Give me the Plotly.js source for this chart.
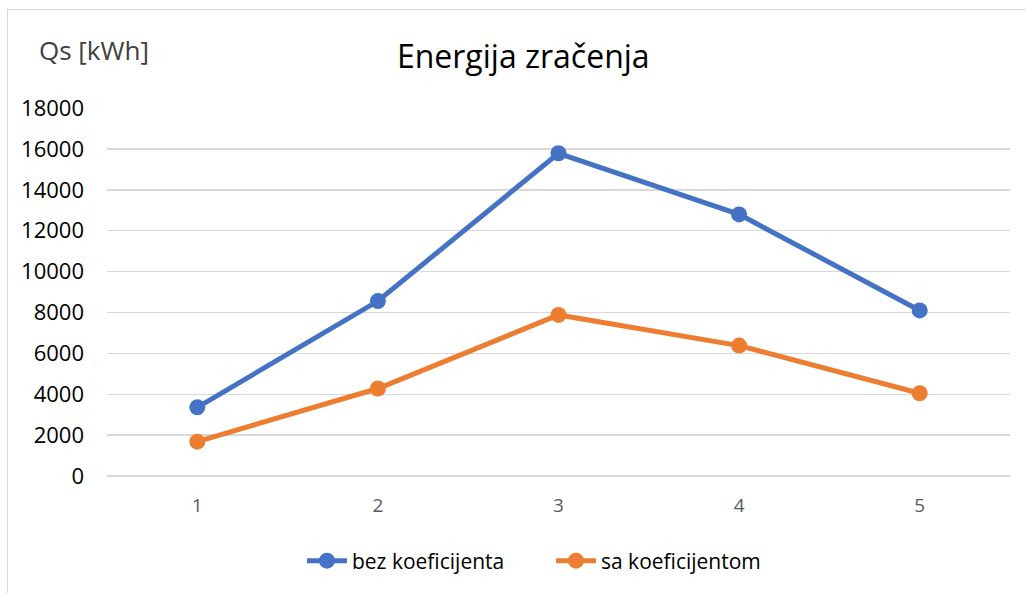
<!DOCTYPE html>
<html>
<head>
<meta charset="utf-8">
<script src="https://cdn.plot.ly/plotly-3.0.1.min.js"></script>
<style>
html,body{margin:0;padding:0;background:#fff;}
#wrap{position:relative;width:1026px;height:593px;overflow:hidden;}
#chart{width:1026px;height:593px;}
#frame{position:absolute;left:7px;top:9px;width:1030px;height:600px;border-left:1.5px solid #D9D9D9;border-top:1.5px solid #D9D9D9;pointer-events:none;}
</style>
</head>
<body>
<div id="wrap">
<div id="chart"></div>
<div id="frame"></div>
</div>
<script>
const categories = ["1", "2", "3", "4", "5"];
const bezKoeficijenta = [3360, 8560, 15790, 12800, 8100];
const saKoeficijentom = [1680, 4280, 7880, 6380, 4050];
const seriesNames = ["bez koeficijenta", "sa koeficijentom"];
const yTicks = [0, 2000, 4000, 6000, 8000, 10000, 12000, 14000, 16000, 18000];

const FONT = "Open Sans, Liberation Sans, sans-serif";

const traces = [
  {
    x: categories, y: bezKoeficijenta, name: seriesNames[0],
    type: "scatter", mode: "lines+markers",
    line: {color: "#4472C4", width: 5},
    marker: {color: "#4472C4", size: 16}
  },
  {
    x: categories, y: saKoeficijentom, name: seriesNames[1],
    type: "scatter", mode: "lines+markers",
    line: {color: "#ED7D31", width: 5},
    marker: {color: "#ED7D31", size: 16}
  }
];

const layout = {
  width: 1026, height: 593,
  margin: {l: 107, r: 16, t: 108, b: 116.5},
  paper_bgcolor: "rgba(0,0,0,0)", plot_bgcolor: "rgba(0,0,0,0)",
  font: {family: FONT, color: "#000"},
  title: {
    text: "Energija zračenja",
    font: {family: FONT, size: 32, color: "#000"},
    x: 0.51, xref: "container", xanchor: "center",
    y: 0.905, yref: "container", yanchor: "middle"
  },
  xaxis: {
    type: "category",
    range: [-0.5, 4.5],
    showgrid: false, zeroline: false, showline: false,
    ticks: "", ticklabelstandoff: 16,
    tickfont: {family: FONT, size: 19, color: "#595959"}
  },
  yaxis: {
    range: [0, 18005],
    tickvals: yTicks,
    ticktext: yTicks.map(String),
    showgrid: true, gridcolor: "#D9D9D9", gridwidth: 1.3,
    zeroline: true, zerolinecolor: "#D9D9D9", zerolinewidth: 1.3,
    showline: false, ticks: "",
    ticklabelstandoff: 22,
    tickfont: {family: FONT, size: 22, color: "#000"}
  },
  showlegend: true,
  legend: {
    orientation: "h",
    x: 0.537, xref: "container", xanchor: "center",
    y: 0.054, yref: "container", yanchor: "middle",
    font: {family: FONT, size: 21, color: "#000"},
    itemwidth: 40,
    entrywidth: 194, entrywidthmode: "pixels",
    tracegroupgap: 0
  },
  annotations: [
    {
      text: "Qs [kWh]", xref: "paper", yref: "paper",
      x: (37 - 107) / 903, y: (476.5 - 50) / 368.5,
      xanchor: "left", yanchor: "middle",
      showarrow: false,
      font: {family: FONT, size: 26, color: "#404040"}
    }
  ]
};

Plotly.newPlot("chart", traces, layout, {displayModeBar: false, staticPlot: true});
</script>
</body>
</html>
